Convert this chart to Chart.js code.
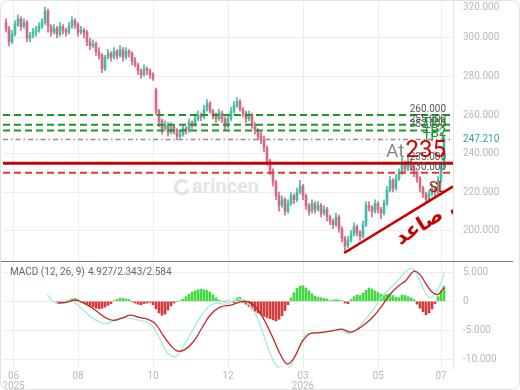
<!DOCTYPE html>
<html>
<head>
<meta charset="utf-8">
<script src="https://cdn.jsdelivr.net/npm/chart.js@4.4.1/dist/chart.umd.min.js"></script>
<style>
  html, body { margin: 0; padding: 0; background: #fff; }
  #card { position: absolute; left: 0; top: 0; width: 520px; height: 390px; box-sizing: border-box;
          border: 1px solid #e3e3e3; border-radius: 8px; overflow: hidden; }
  canvas { display: block; }
</style>
</head>
<body>
<div id="card"><canvas id="chart" width="518" height="388"></canvas></div>
<script>
// daily candles, one entry per session
const opens = [
  308,305,298,302,307,310,306,308,300,301, 303,304,306,308,314,306,303,305,302,306,
  304,303,306,309,307,303,304,303,298,296, 297,293,291,284,290,292,290,293,291,294,
  290,293,292,288,286,283,281,284,283,281, 273,262,257,253,255,251,254,252,249,250,
  253,252,256,255,258,260,259,263,266,262, 260,258,261,258,254,258,262,265,267,263,
  261,258,260,255,252,249,247,243,236,231, 225,218,213,216,210,214,218,216,220,223,
  218,213,210,214,211,213,209,211,207,205, 203,207,201,196,192,195,198,202,199,197,
  203,213,212,210,214,211,209,214,221,226, 222,227,230,234,232,236,233,230,227,222,
  219,216,219,222,220,226,233
];
const highs = [
  310,306,304,309,312,311,310,309,303,305, 306,308,310,316,315,307,307,306,308,307,
  305,308,311,310,308,306,305,304,300,299, 298,295,292,291,294,293,295,294,296,295,
  295,294,293,290,287,284,286,285,284,282, 274,263,258,257,256,256,255,253,252,255,
  254,258,257,260,262,261,265,268,267,263, 261,263,262,259,260,264,267,269,268,264,
  262,262,261,256,253,251,249,244,237,232, 226,220,218,217,216,220,219,222,226,224,
  219,214,216,215,215,214,213,212,208,206, 209,208,202,197,197,200,204,203,200,205,
  215,215,213,216,215,212,216,223,228,227, 229,232,238,236,240,237,234,231,228,223,
  220,221,224,223,228,235,249
];
const lows = [
  303,296,297,301,306,304,305,298,298,300, 301,303,305,307,303,301,302,300,301,302,
  301,302,305,305,301,302,300,296,294,295, 291,289,282,283,289,288,289,289,290,288,
  289,290,286,285,281,279,280,281,279,278, 260,254,250,252,249,250,250,247,248,249,
  250,251,253,254,257,257,258,262,261,258, 256,257,256,252,253,257,261,264,262,259,
  256,257,253,250,247,245,241,234,229,223, 216,210,212,208,209,213,214,215,219,216,
  211,208,209,209,210,207,208,205,203,201, 202,199,194,189,191,194,197,197,195,196,
  202,210,207,209,209,206,208,213,220,220, 221,226,229,230,231,231,228,225,220,217,
  214,215,218,218,219,225,232
];
const closes = [
  305,298,302,307,310,306,308,300,301,303, 304,306,308,314,306,303,305,302,306,304,
  303,306,309,307,303,304,303,298,296,297, 293,291,284,290,292,290,293,291,294,290,
  293,292,288,286,283,281,284,283,281,279, 262,257,253,255,251,254,252,249,250,253,
  252,256,255,258,260,259,263,266,262,260, 258,261,258,254,258,262,265,267,263,261,
  258,260,255,252,249,247,243,236,231,225, 218,213,216,210,214,218,216,220,223,218,
  213,210,214,211,213,209,211,207,205,203, 207,201,196,192,195,198,202,199,197,203,
  213,212,210,214,211,209,214,221,226,222, 227,230,234,232,236,233,230,227,222,219,
  216,219,222,220,226,233,247.21
];

// MACD (12, 26, 9)
const macdParams = [12, 26, 9];
const macdIdx = [13.7,15.7,18,21.3,24.7,28,31.3,33,36.3,39.7,43,46.3,48.7,51.3,54,56.7,59.7,62,64.7,67.3,
  70,73.3,76.7,79.3,82,84.7,87.3,90,92.7,94.7,97.3,99.7,102,105.3,108.7,112,114.7,117.3,120,122.7,
  125.3,128,130.7,133.3,135.3,137.3,139.3,141.3,143.3,145,146];
const macdVals = [1.2,0.0,-0.3,0.2,-1.0,-2.6,-3.6,-3.9,-3.3,-2.8,-3.1,-3.5,-4.2,-6.5,-9.0,-9.5,-7.2,-5.2,-2.8,-1.0,
  -0.3,-0.5,0.3,0.2,-1.2,-4.0,-8.0,-11.0,-11.8,-11.2,-8.5,-5.8,-5.4,-5.3,-5.0,-5.1,-5.6,-4.6,-3.0,-1.2,
  0.8,2.2,3.6,5.2,5.7,4.3,2.0,0.6,1.6,3.2,4.927];
const signalIdx = [17.3,20,23,26.3,29.7,33,35.7,38.7,41.3,44.7,47.3,49.7,52.3,54.7,57.3,60,62.7,65.3,68,71.3,
  75.3,79,82,85.3,88.7,91.3,93.7,96,98.7,101.3,104.7,108.7,112,114.7,117.3,120,122.7,125.3,128,130.7,
  133.3,136,138,140,142,144,146];
const signalVals = [-0.3,-0.2,0.2,-0.4,-1.5,-2.8,-3.3,-2.9,-2.4,-2.8,-3.1,-3.8,-5.8,-7.5,-8.6,-8.2,-6.8,-4.6,-2.4,-1.0,
  -0.6,0.0,-0.4,-2.5,-6.0,-9.0,-10.8,-9.8,-7.0,-5.6,-5.4,-5.1,-4.8,-5.3,-4.8,-3.8,-2.5,-0.8,1.2,2.6,
  3.6,5.2,4.6,3.0,1.6,1.2,2.343];
const histVals = [
  null,null,null,null,null,null,null,null,null,null,null,null,null,null,null,null,null,
  -0.3,-0.4,-0.3,-0.1, 0.2,0.4,0.5,0.3, -0.1,-0.3,-0.5,
  -0.8,-1.0,-1.2,-1.3,-1.2,-1.0,-0.7,-0.4, 0.1, 0.3,0.5,0.5,0.4,0.3,
  -0.1,-0.3,-0.5,-0.6,-0.4,-0.3,-0.2, -0.6,-1.3,-2.0,-2.4,-2.2,-1.5,-0.8, -0.3,0.0,0.1,
  0.4,0.8,1.2,1.6,1.8,2.0,2.1,2.0,1.9,1.6,1.1,0.6,0.2, 0.0,-0.1,0.1,0.0,-0.2, 0.6,0.7,
  -0.2,-0.5,-0.9,-1.3,-1.7,-2.0,-2.3,-2.6,-2.8,-3.0,-3.2,-3.4,-3.1,-2.5,-1.6,-0.6,
  0.6,1.5,2.2,2.6,2.7,2.3,1.8,1.3,0.9,0.7,0.6,0.5,0.4,0.1, 0.2,0.3,0.2,0.1, -0.3,-0.4,
  0.3,0.8,1.1,1.0,1.4,1.9,2.3,2.1,1.8,1.5,1.2,1.1,1.2,1.3,1.0,0.7,0.6, 1.1,1.0,0.8,0.6,0.3,
  -0.5,-1.2,-1.8,-2.3,-2.0,-1.3,-0.4, 0.8,1.8,2.584
];

// trade plan levels
const targetNames = ['TP3', 'TP2', 'TP1'];
const targetValues = [260, 255, 252];
const entryValue = 235;
const stopValue = 230;
const lastPrice = 247.21;
const trendIdx = [112.7, 149];
const trendVals = [188.3, 222.9];
const trendText = 'ميل صاعد';

// axes
const priceTicks = [200, 220, 240, 260, 280, 300];
const priceTop = 320;
const macdTicks = [-10, -5, 0, 5];
const tickIdx = [2.5, 24, 49, 74, 99, 124, 145];
const tickLabels = [['06', '2025'], '08', '10', '12', ['03', '2026'], '05', '07'];

const FONT = 'Roboto, "DejaVu Sans", sans-serif';
const UP = '#45bba5', DOWN = '#d56985';
const X_MIN = -1, X_MAX = 149;

const candleColors = opens.map((o, i) => closes[i] >= o ? UP : DOWN);
const flat = v => [{ x: X_MIN, y: v }, { x: X_MAX, y: v }];
const levelLine = (v, color, width, dash) => ({
  type: 'line', data: flat(v), yAxisID: 'y', borderColor: color, borderWidth: width,
  borderDash: dash, pointRadius: 0, order: 1
});

const datasets = [
  ...targetValues.map(v => levelLine(v, '#1f962c', 2, [7, 4])),
  levelLine(lastPrice, '#8f8f8f', 1.5, [5, 3, 1.5, 3]),
  levelLine(entryValue, '#c40000', 3, []),
  levelLine(stopValue, '#e53935', 2, [7, 4]),
  {
    type: 'line', yAxisID: 'y', order: 0,
    data: trendIdx.map((x, k) => ({ x, y: trendVals[k] })),
    borderColor: '#cc0000', borderWidth: 2.5, pointRadius: 0
  },
  {
    type: 'bar', yAxisID: 'y', order: 5, grouped: false,
    data: opens.map((o, i) => ({ x: i, y: [lows[i], highs[i]] })),
    backgroundColor: candleColors, barThickness: 1
  },
  {
    type: 'bar', yAxisID: 'y', order: 4, grouped: false, minBarLength: 1,
    data: opens.map((o, i) => ({ x: i, y: [o, closes[i]] })),
    backgroundColor: candleColors, barThickness: 2
  },
  {
    type: 'bar', yAxisID: 'm', order: 6, grouped: false,
    data: histVals.map((h, i) => ({ x: i, y: h })),
    backgroundColor: histVals.map(h => h >= 0 ? '#45d845' : '#d53b3b'), barThickness: 2
  },
  {
    type: 'line', yAxisID: 'm', order: 3,
    data: macdIdx.map((x, k) => ({ x, y: macdVals[k] })),
    borderColor: '#a3ecd8', borderWidth: 1.3, pointRadius: 0, tension: 0.35
  },
  {
    type: 'line', yAxisID: 'm', order: 2,
    data: signalIdx.map((x, k) => ({ x, y: signalVals[k] })),
    borderColor: '#c62828', borderWidth: 1.3, pointRadius: 0, tension: 0.35
  }
];

const annotate = {
  id: 'annotate',
  beforeDatasetsDraw(chart) {
    // watermark
    const { ctx, chartArea: a } = chart;
    const ys = chart.scales.y;
    const cx = a.left + (a.right - a.left) * 0.398;
    const cy = ys.top + (ys.bottom - ys.top) * 0.715;
    ctx.save();
    ctx.strokeStyle = '#e4e4e4';
    ctx.fillStyle = '#e4e4e4';
    ctx.lineWidth = 3.5;
    ctx.beginPath();
    ctx.arc(cx, cy, 6.5, 0.35, Math.PI * 1.75);
    ctx.stroke();
    ctx.font = 'bold 20px ' + FONT;
    ctx.textBaseline = 'middle';
    ctx.fillText('arincen', cx + 10, cy + 1);
    ctx.restore();
  },
  afterDatasetsDraw(chart) {
    const { ctx, chartArea: a } = chart;
    const xs = chart.scales.x, ys = chart.scales.y;
    const rx = a.right - 7;
    ctx.save();
    ctx.textAlign = 'right';
    ctx.textBaseline = 'alphabetic';

    ctx.font = '10px ' + FONT;
    ctx.fillStyle = '#555';
    [...targetValues, entryValue, stopValue].forEach(v =>
      ctx.fillText(v.toFixed(3), rx, ys.getPixelForValue(v) - 3));

    ctx.font = '13px ' + FONT;
    ctx.fillStyle = '#1f962c';
    targetValues.forEach((v, k) => ctx.fillText(targetNames[k], rx, ys.getPixelForValue(v) + 11));

    const ey = ys.getPixelForValue(entryValue) - 6;
    ctx.font = '24px ' + FONT;
    ctx.fillStyle = '#d10000';
    ctx.fillText(String(entryValue), rx, ey);
    const ew = ctx.measureText(String(entryValue)).width;
    ctx.font = '19px ' + FONT;
    ctx.fillStyle = '#8a8a8a';
    ctx.fillText('At', rx - ew - 1, ey);

    ctx.font = '15px ' + FONT;
    ctx.fillStyle = '#d10000';
    ctx.fillText('SL', rx, ys.getPixelForValue(stopValue) + 19);

    // label along the rising trend line, clipped to the price pane
    const x1 = xs.getPixelForValue(trendIdx[0]), y1 = ys.getPixelForValue(trendVals[0]);
    const x2 = xs.getPixelForValue(trendIdx[1]), y2 = ys.getPixelForValue(trendVals[1]);
    const ang = Math.atan2(y2 - y1, x2 - x1);
    const ox = xs.getPixelForValue(131.3);
    const oy = y1 + (ox - x1) * (y2 - y1) / (x2 - x1);
    ctx.beginPath();
    ctx.rect(a.left, ys.top, a.right - a.left, ys.bottom - ys.top);
    ctx.clip();
    ctx.translate(ox, oy);
    ctx.rotate(ang);
    ctx.font = 'bold 20px "DejaVu Sans", sans-serif';
    ctx.fillStyle = '#cc0000';
    ctx.textAlign = 'left';
    ctx.fillText(trendText, -13.5, 22.5);
    ctx.restore();
  },
  afterDraw(chart) {
    const { ctx, chartArea: a } = chart;
    const ys = chart.scales.y, ms = chart.scales.m;
    ctx.save();
    const sy = Math.round(ys.bottom) + 0.5;
    ctx.strokeStyle = '#7d7d7d';
    ctx.lineWidth = 1;
    ctx.beginPath();
    ctx.moveTo(0, sy);
    ctx.lineTo(chart.width - 6, sy);
    ctx.stroke();

    ctx.font = '10px ' + FONT;
    ctx.textAlign = 'left';
    ctx.textBaseline = 'middle';
    ctx.fillStyle = '#b8b8b8';
    ctx.fillText(priceTop.toFixed(3), ys.left + 10, Math.max(ys.getPixelForValue(priceTop), ys.top + 5));
    ctx.fillStyle = '#2fa893';
    ctx.fillText(lastPrice.toFixed(3), ys.left + 10, ys.getPixelForValue(lastPrice));

    ctx.fillStyle = '#5c6a77';
    ctx.textBaseline = 'alphabetic';
    ctx.fillText('MACD (' + macdParams.join(', ') + ')', a.left + 7, ms.top + 14);
    const lastVals = [macdVals[macdVals.length - 1], signalVals[signalVals.length - 1], histVals[histVals.length - 1]];
    ctx.fillText(lastVals.map(v => v.toFixed(3)).join('/'), a.left + 85, ms.top + 14);
    ctx.restore();
  }
};

const noPad = s => { s.paddingTop = 0; s.paddingBottom = 0; s.paddingLeft = 0; s.paddingRight = 0; };
const tickStyle = { color: '#b8b8b8', font: { size: 10, family: FONT }, padding: 10 };

new Chart(document.getElementById('chart'), {
  type: 'line',
  data: { datasets },
  options: {
    responsive: false,
    animation: false,
    layout: { padding: { left: 2, top: 1, right: 0, bottom: 0 } },
    plugins: { legend: { display: false }, tooltip: { enabled: false } },
    scales: {
      x: {
        type: 'linear', min: X_MIN, max: X_MAX, offset: false,
        grid: { color: '#ededed', drawTicks: false, offset: false },
        border: { display: false },
        ticks: {
          color: '#b8b8b8', font: { size: 10, family: FONT, lineHeight: 1 }, padding: 3,
          maxRotation: 0, autoSkip: false, callback: (v, k) => tickLabels[k]
        },
        afterBuildTicks: s => { s.ticks = tickIdx.map(v => ({ value: v })); },
        afterFit: s => { s.height = 21; noPad(s); }
      },
      y: {
        type: 'linear', position: 'right', stack: 'panes', stackWeight: 259,
        min: 184.16, max: 318.7,
        grid: { color: '#ededed', drawTicks: false },
        border: { color: '#e2e2e2' },
        ticks: { ...tickStyle, callback: v => v.toFixed(3) },
        afterBuildTicks: s => { s.ticks = priceTicks.map(v => ({ value: v })); },
        afterFit: s => { s.width = 66; noPad(s); }
      },
      m: {
        type: 'linear', position: 'right', stack: 'panes', stackWeight: 107,
        min: -11.5, max: 6.95,
        grid: { color: '#ededed', drawTicks: false },
        border: { color: '#e2e2e2' },
        ticks: { ...tickStyle, callback: v => v === 0 ? '0' : v.toFixed(3) },
        afterBuildTicks: s => { s.ticks = macdTicks.map(v => ({ value: v })); },
        afterFit: s => { s.width = 66; noPad(s); }
      }
    }
  },
  plugins: [annotate]
});
</script>
</body>
</html>
